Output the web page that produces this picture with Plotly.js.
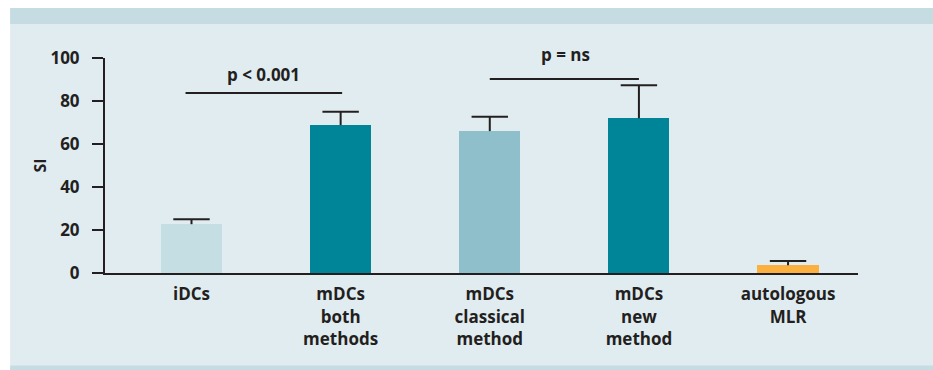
<!DOCTYPE html>
<html>
<head>
<meta charset="utf-8">
<script src="https://cdn.plot.ly/plotly-3.0.1.min.js"></script>
<style>
html,body{margin:0;padding:0;background:#fff;}
#chart{width:933px;height:370px;}
</style>
</head>
<body>
<div id="chart"></div>
<script>
// ---- data ----
var categories = ["iDCs", "mDCs<br>both<br>methods", "mDCs<br>classical<br>method", "mDCs<br>new<br>method", "autologous<br>MLR"];
var siValues = [22.7, 68.8, 66.0, 72.0, 3.6];
var siErrorUp = [2.3, 6.2, 6.7, 15.3, 2.0];
var yTickValues = [0, 20, 40, 60, 80, 100];
var yTickLabels = ["0", "20", "40", "60", "80", "100"];
var sigLabels = ["p < 0.001", "p = ns"];
var sigLevels = [83.7, 90.2];

// ---- styles ----
var barColors = ["#c4dee3", "#008497", "#8fbfcb", "#008497", "#fbb040"];
var ink = "#231f20";
var panelBg = "#e1ecf0";
var bandBg = "#c5dde2";
var fontFam = "Open Sans, Liberation Sans, sans-serif";

var idx = categories.map(function(_, i){ return i; });

var barTrace = {
  type: "bar",
  x: idx,
  y: siValues,
  width: 0.41,
  marker: {color: barColors, line: {width: 0}},
  hoverinfo: "skip"
};

// upward-only error whiskers (stem + cap)
var stemX = [], stemY = [];
idx.forEach(function(i){
  stemX.push(i, i, null);
  stemY.push(siValues[i], siValues[i] + siErrorUp[i], null);
});
var stemTrace = {
  type: "scatter", mode: "lines", x: stemX, y: stemY,
  line: {color: ink, width: 2}, cliponaxis: false, hoverinfo: "skip"
};
var capTrace = {
  type: "scatter", mode: "markers", x: idx,
  y: siValues.map(function(v, i){ return v + siErrorUp[i]; }),
  marker: {symbol: "line-ew", size: 26, color: ink, line: {color: ink, width: 2}},
  cliponaxis: false, hoverinfo: "skip"
};

var shapes = [
  {type:"rect", xref:"paper", yref:"paper", layer:"below", x0:-0.126, x1:1.1, y0:-0.453, y1:1.233, fillcolor:panelBg, line:{width:0}},
  {type:"rect", xref:"paper", yref:"paper", layer:"below", x0:-0.126, x1:1.1, y0:1.158, y1:1.233, fillcolor:bandBg, line:{width:0}},
  {type:"rect", xref:"paper", yref:"paper", layer:"below", x0:-0.126, x1:1.1, y0:-0.453, y1:-0.43, fillcolor:bandBg, line:{width:0}},
  {type:"line", xref:"x", yref:"y", x0:-0.04, x1:1.01, y0:sigLevels[0], y1:sigLevels[0], line:{color:ink, width:2}},
  {type:"line", xref:"x", yref:"y", x0:2.0, x1:3.0, y0:sigLevels[1], y1:sigLevels[1], line:{color:ink, width:2}}
];

var annotations = [
  {xref:"x", yref:"paper", x:0.48, y:(sigLevels[0] + 8.4) / 100, xanchor:"center", yanchor:"middle",
   text:sigLabels[0], showarrow:false, font:{family:fontFam, size:17, color:ink, weight:"bold"}},
  {xref:"x", yref:"paper", x:2.505, y:(sigLevels[1] + 11.5) / 100, xanchor:"center", yanchor:"middle",
   text:sigLabels[1], showarrow:false, font:{family:fontFam, size:17, color:ink, weight:"bold"}}
];

var layout = {
  width: 933, height: 370,
  margin: {l:105, r:75, t:58, b:97, pad:0},
  paper_bgcolor: "#ffffff",
  plot_bgcolor: "rgba(0,0,0,0)",
  showlegend: false,
  font: {family: fontFam, color: ink},
  xaxis: {
    range: [-0.58, 4.469],
    tickmode: "array", tickvals: idx, ticktext: categories,
    ticks: "", showgrid: false, zeroline: false,
    showline: true, linecolor: ink, linewidth: 2,
    ticklabelstandoff: 5,
    tickfont: {family: fontFam, size: 17, color: ink, weight: "bold"},
    fixedrange: true
  },
  yaxis: {
    range: [0, 100],
    tickmode: "array", tickvals: yTickValues, ticktext: yTickLabels,
    ticks: "outside", ticklen: 11, tickwidth: 2, tickcolor: ink,
    ticklabelstandoff: 9,
    showgrid: false, zeroline: false,
    showline: true, linecolor: ink, linewidth: 2,
    tickfont: {family: fontFam, size: 17, color: ink, weight: "bold"},
    title: {text: "SI", font: {family: fontFam, size: 16, color: ink, weight: "bold"}, standoff: 0},
    fixedrange: true
  },
  shapes: shapes,
  annotations: annotations,
  bargap: 0
};

Plotly.newPlot("chart", [barTrace, stemTrace, capTrace], layout, {displayModeBar: false, staticPlot: true});
</script>
</body>
</html>
